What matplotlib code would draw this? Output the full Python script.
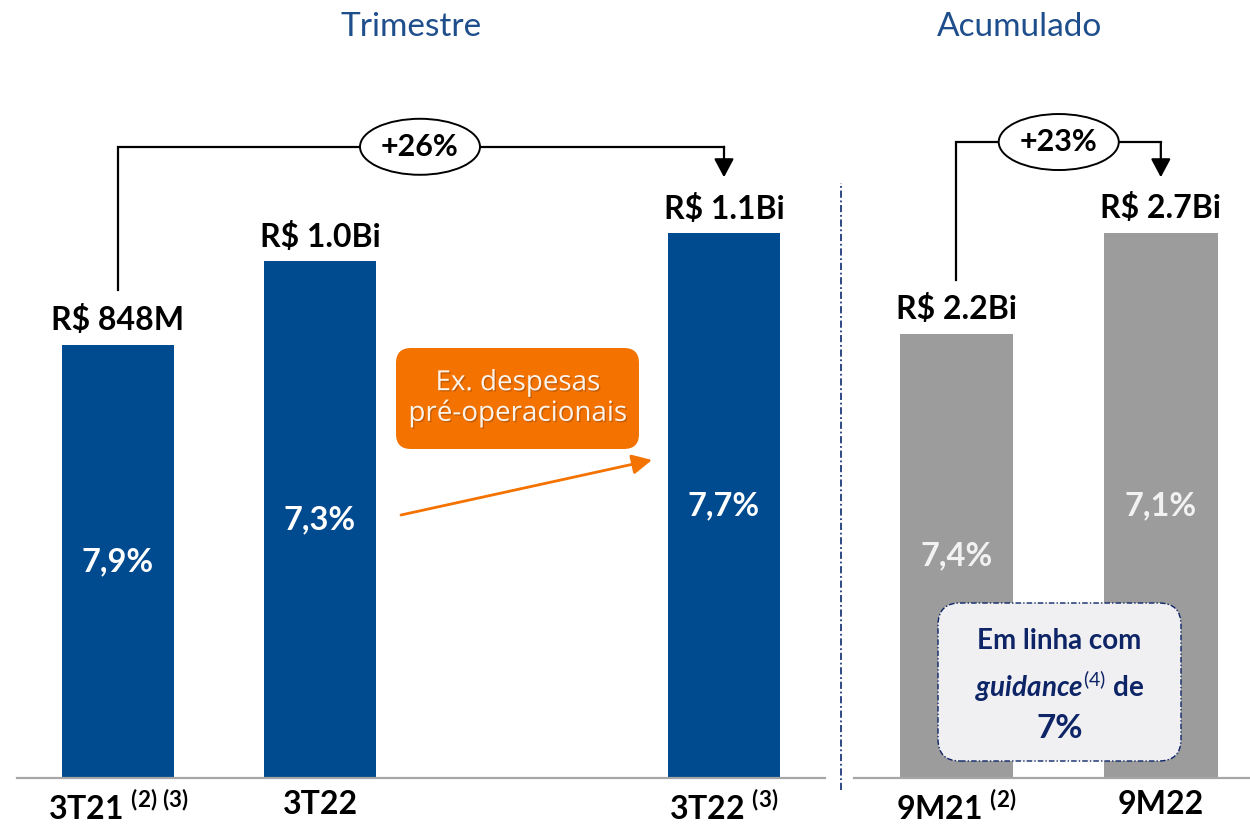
import matplotlib
matplotlib.use('Agg')
import matplotlib.pyplot as plt
import matplotlib.transforms as mtransforms
import matplotlib.patheffects as pe
from matplotlib.patches import Ellipse, FancyBboxPatch, FancyArrowPatch
from matplotlib.lines import Line2D

plt.rcParams['font.family'] = ['Lato', 'DejaVu Sans']
plt.rcParams['mathtext.fontset'] = 'custom'
plt.rcParams['mathtext.rm'] = 'Lato'
plt.rcParams['mathtext.bf'] = 'Lato:bold'
plt.rcParams['mathtext.it'] = 'Lato:italic:bold'

# dados - trimestre (R$ milhoes)
trim_pos = [0, 1, 3]
trim_ticks = [r'3T21 $^{\mathbf{(2)}\ \mathbf{(3)}}$', '3T22', r'3T22 $^{\mathbf{(3)}}$']
trim_valor = [848, 1012, 1067]
trim_rotulo = ['R$ 848M', 'R$ 1.0Bi', 'R$ 1.1Bi']
trim_margem = ['7,9%', '7,3%', '7,7%']

# dados - acumulado (R$ milhoes)
acum_pos = [0, 1]
acum_ticks = [r'9M21 $^{\mathbf{(2)}}$', '9M22']
acum_valor = [2200, 2700]
acum_rotulo = ['R$ 2.2Bi', 'R$ 2.7Bi']
acum_margem = ['7,4%', '7,1%']

var_trim = '+26%'
var_acum = '+23%'

AZUL = '#004A8F'
CINZA = '#9C9C9C'
LARANJA = '#F47200'
NAVY = '#0D2466'
TITULO = '#1F4E8C'

W, H = 1250, 824
fig = plt.figure(figsize=(12.5, 8.24), dpi=100)
ax1 = fig.add_axes([17 / W, 46 / H, 808 / W, 678 / H])
ax2 = fig.add_axes([854 / W, 46 / H, 396 / W, 678 / H])


def prepara(ax, xlim, ytop):
    ax.set_xlim(*xlim)
    ax.set_ylim(0, ytop)
    for s in ['top', 'right', 'left']:
        ax.spines[s].set_visible(False)
    ax.spines['bottom'].set_color('#A6A6A6')
    ax.spines['bottom'].set_linewidth(1.6)
    ax.set_yticks([])
    ax.tick_params(axis='x', length=0, pad=9)
    ax.patch.set_alpha(0)


def barras(ax, pos, valor, rotulo, margem, ticks, cor, cor_txt):
    b = ax.bar(pos, valor, width=0.555, color=cor)
    ax.bar_label(b, labels=rotulo, padding=7, fontsize=23, fontweight='bold')
    for x, v, m in zip(pos, valor, margem):
        ax.text(x, v / 2, m, ha='center', va='center', color=cor_txt,
                fontsize=23.5, fontweight='bold')
    ax.set_xticks(pos)
    ax.set_xticklabels(ticks, fontsize=23, fontweight='bold')


def colchete(ax, x0, x1, y0, yh, ytip, txt, cx, ew):
    tr = mtransforms.blended_transform_factory(ax.transData, ax.transAxes)
    ax.plot([x0, x0, x1], [y0, yh, yh], color='black', lw=1.6, transform=tr,
            clip_on=False, solid_joinstyle='miter')
    ax.annotate('', xy=(x1, ytip), xytext=(x1, yh), xycoords=tr, textcoords=tr,
                arrowprops=dict(arrowstyle='-|>,head_length=0.75,head_width=0.4',
                                color='black', lw=1.6, shrinkA=0, shrinkB=0,
                                mutation_scale=15))
    ax.add_patch(Ellipse((cx, yh), ew, 56 / 678, transform=tr, fc='white',
                         ec='black', lw=1.4, zorder=3, clip_on=False))
    ax.text(cx, yh, txt, transform=tr, ha='center', va='center', fontsize=22,
            fontweight='bold', zorder=4)


prepara(ax1, (-0.5, 3.5), 1328)
prepara(ax2, (-0.5, 1.436), 3358)
barras(ax1, trim_pos, trim_valor, trim_rotulo, trim_margem, trim_ticks, AZUL, 'white')
barras(ax2, acum_pos, acum_valor, acum_rotulo, acum_margem, acum_ticks, CINZA, '#F2F2F2')

colchete(ax1, trim_pos[0], trim_pos[2], 0.72, 0.931, 0.886, var_trim, 1.495, 0.594)
colchete(ax2, acum_pos[0], acum_pos[1], 0.735, 0.938, 0.886, var_acum, 0.501, 0.587)

# titulos
fig.text(411 / W, 1 - 27 / H, 'Trimestre', ha='center', va='center', fontsize=24, color=TITULO)
fig.text(1020 / W, 1 - 27 / H, 'Acumulado', ha='center', va='center', fontsize=24, color=TITULO)

# divisoria
fig.add_artist(Line2D([841 / W, 841 / W], [34 / H, (824 - 183) / H], transform=fig.transFigure,
                      color='#1F3A7A', lw=1.3, linestyle=(0, (4, 1.5, 1, 1.5))))

# caixa laranja
inch = fig.dpi_scale_trans
fig.add_artist(FancyBboxPatch((3.96, 3.75), 2.43, 1.01, boxstyle='round,pad=0,rounding_size=0.15',
                              transform=inch, fc=LARANJA, ec='none'))
fig.text(5.175, 4.255, 'Ex. despesas\npré-operacionais', transform=inch, ha='center', va='center',
         fontsize=20, color='#FBF3EA', family=['Open Sans', 'DejaVu Sans'], linespacing=1.1,
         path_effects=[pe.withSimplePatchShadow(offset=(1, -1), shadow_rgbFace='#9A4800', alpha=0.5)])
fig.add_artist(FancyArrowPatch((4.01, 3.09), (6.52, 3.64), transform=inch,
                               arrowstyle='-|>,head_length=0.8,head_width=0.4', mutation_scale=15,
                               color=LARANJA, lw=2, shrinkA=0, shrinkB=0))

# caixa guidance
fig.add_artist(FancyBboxPatch((9.38, 0.63), 2.43, 1.58, boxstyle='round,pad=0,rounding_size=0.22',
                              transform=inch, fc='#F0F0F2', ec=NAVY, lw=1,
                              linestyle=(0, (4, 1.5, 1, 1.5))))
fig.text(10.595, 1.83, 'Em linha com', transform=inch, ha='center', va='center',
         fontsize=20, fontweight='bold', color=NAVY)
fig.text(10.595, 1.38, r'$\mathit{guidance}^{\mathit{(4)}}$ de', transform=inch, ha='center',
         va='center', fontsize=20, fontweight='bold', color=NAVY)
fig.text(10.595, 0.96, '7%', transform=inch, ha='center', va='center',
         fontsize=24, fontweight='bold', color=NAVY)

fig.savefig('out.png', dpi=100)
